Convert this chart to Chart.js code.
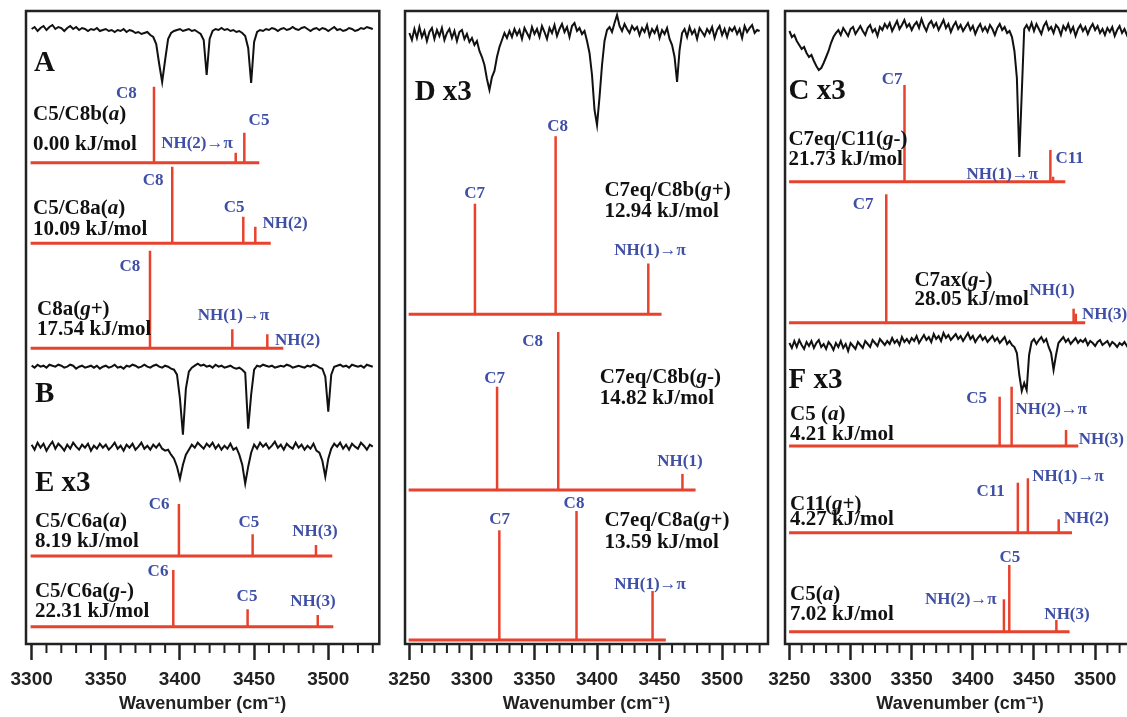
<!DOCTYPE html>
<html>
<head>
<meta charset="utf-8">
<script src="https://cdn.jsdelivr.net/npm/chart.js@4/dist/chart.umd.min.js"></script>
<style>
    body { margin: 0; background: #fff; width: 1127px; height: 717px; overflow: hidden; position: relative; }
    canvas { position: absolute; top: 0; }
</style>
</head>
<body>
<canvas id="p1" width="385" height="717" style="left:0px"></canvas>
<canvas id="p2" width="395" height="717" style="left:380px"></canvas>
<canvas id="p3" width="380" height="717" style="left:760px"></canvas>
<script>
const traceA = [1,3,-1,2,4,0,3,5,1,3, 2,-1,2,4,1,3,0,2,1,-1, 1,0,2,-1,0,1,-1,0,-2,0,
    -1,1,-2,0,-1,-3,-2,-4,-3,-2, -5,-7,-14,-34,-52,-30,-9,-3,-1,0, 1,-1,0,1,-1,0,-2,-4,-10,-45,
    -9,-1,1,0,2,0,1,-1,0,-2, -1,-3,-6,-18,-53,-12,-2,0,-1,1, 0,2,1,-1,1,2,0,1,3,1,
    0,2,3,1,-1,1,2,0,2,1, -1,1,3,0,1,-1,0,2,1,-1, 0,2,1,3,2,1];
const traceB = [1,-1,2,0,1,-1,2,1,0,2, 1,-1,0,2,1,-2,0,1,-1,0, 1,-1,1,-2,0,1,-1,0,2,-1,
    0,-2,1,0,2,1,-1,0,2,0, -1,1,2,0,-1,1,0,-2,-3,-8, -32,-68,-22,-5,-1,1,3,1,2,0,
    1,-1,2,0,1,-1,0,1,-1,-2, -1,-3,-6,-62,-28,-3,1,0,2,1, 0,1,-1,0,1,0,2,1,-1,0,
    1,0,-1,1,0,2,1,-1,-2,-10, -45,-8,0,1,2,0,1,-1,2,1, 0,1,-1,2,1,0];
const traceE = [2,-3,4,-1,3,-4,1,5,-2,3, 0,-4,2,-2,4,0,-3,2,-1,3, -4,1,-2,3,-1,2,-3,0,4,-2,
    1,-4,2,-1,3,-3,0,4,-2,1, -3,2,-1,3,-2,-4,-3,-8,-12,-20, -32,-18,-8,-3,2,-1,4,1,-2,3,
    0,4,-2,2,-3,1,-2,3,-3,-1, -8,-18,-37,-20,-6,2,-2,4,0,3, -2,1,5,-1,2,-3,3,0,-2,4,
    -1,2,-3,1,-2,3,-4,-6,-14,-30, -12,-2,3,0,4,-2,2,-3,3,0, -2,4,1,-3,2,0];
const traceD = [2,-5,6,-3,8,-2,4,-6,3,7, -4,5,-1,7,-5,2,6,-3,4,-6, 3,5,-4,1,-7,-3,-10,-6,-16,-22,
    -30,-44,-55,-42,-36,-22,-12,-5,2,-3, 4,-2,6,0,5,-4,7,2,-3,8, 1,6,-2,9,3,-4,7,2,10,-1,
    6,11,3,8,-2,9,12,4,7,1, 4,-6,-18,-40,-75,-90,-62,-30,-6,5, 8,3,12,20,9,4,11,6,2,9,
    5,8,0,7,3,10,-1,6,2,8, -3,5,1,7,-4,-10,-22,-47,-15,2, 6,-2,8,1,5,-4,7,3,-1,6,
    2,8,-3,5,9,0,6,-2,7,4, 8,1,6,-3,9,3,7,10,2,5, 4];
const traceC = [2,-4,-2,-8,-12,-16,-14,-20,-24,-22, -28,-33,-37,-35,-30,-24,-18,-10,-4,0,
    3,-2,5,1,-3,4,6,-1,3,7, 2,-2,5,8,1,4,-3,6,3,9, 5,10,2,7,12,4,8,13,6,9,
    3,8,11,5,14,7,2,9,12,6, 10,3,8,13,5,9,1,7,11,4, 8,2,6,10,3,7,-1,5,9,2,
    6,1,8,4,-2,5,9,3,6,0, 2,-4,-18,-45,-124,-60,4,8,3,10, 2,9,4,-1,7,11,3,6,0,8,
    5,-2,7,3,9,1,6,-3,4,8, 2,6,-1,5,9,3,7,0,4,-2, 5,1,6,-3,3,7,0,4,-2,3, 1];
const traceF = [2,-3,4,-2,5,0,-4,3,-1,4, -3,2,5,-2,1,-4,3,0,-5,2, -2,4,-3,1,-6,2,-1,-4,3,0,
    -3,4,1,-2,5,2,-1,6,3,0, 4,1,7,2,5,0,8,3,6,2, 7,4,9,2,6,10,5,8,3,11,
    6,9,4,12,7,10,5,8,11,6, 9,4,8,12,6,9,3,7,10,5, 8,3,6,9,4,7,2,5,8,1,
    4,0,-2,-8,-30,-46,-38,-45,-10,3, 6,1,5,8,3,6,-2,-8,-25,-10, 2,5,8,3,6,1,4,7,2,5,
    3,6,0,4,2,-1,3,5,0,2, 4,-1,3,1,-2,2,0,3,-1,2, 1];

// ---- calculated stick spectra: frequency (cm-1) / intensity ----
const c5c8b_f = [3382.5, 3437.6, 3443.4],  c5c8b_i = [76, 10, 30];
const c5c8a_f = [3394.8, 3442.7, 3450.8],  c5c8a_i = [76.6, 26.6, 16.6];
const c8ag_f  = [3379.8, 3435.3, 3458.9],  c8ag_i  = [97.6, 19, 14];
const c6aa_f  = [3399.3, 3449.0, 3491.7],  c6aa_i  = [52, 21.7, 11];
const c6ag_f  = [3395.5, 3445.6, 3492.9],  c6ag_i  = [56.7, 17.4, 11.7];

const c8bgp_f = [3302.4, 3366.9, 3441.0],  c8bgp_i = [110.5, 178, 50.7];
const c8bgm_f = [3320.1, 3369.0, 3468.3],  c8bgm_i = [103.4, 158.1, 16.2];
const c8agp_f = [3321.9, 3383.6, 3444.4],  c8agp_i = [109.7, 129, 49];

const c11gm_f = [3344.1, 3463.4, 3465.6],  c11gm_i = [96.7, 31.7, 5];
const c7ax_f  = [3329.2, 3482.4, 3484.2],  c7ax_i  = [128.4, 14, 9];
const c5a1_f  = [3421.9, 3431.7, 3476.2],  c5a1_i  = [49.3, 59.3, 16];
const c11gp_f = [3436.8, 3445.0, 3470.2],  c11gp_i = [50, 54.4, 13.4];
const c5a2_f  = [3425.4, 3429.8, 3468.3],  c5a2_i  = [32.4, 66.7, 11.7];

// text labels: [text, wavenumber, height, align, kind]  (*x* = italic)
const notes1 = [
    ['A', 3301.6, 580.5, 'l', 'h'],
    ['C5/C8b(*a*)', 3300.9, 529.5, 'l', 'k'], ['0.00 kJ/mol', 3300.9, 499, 'l', 'k'],
    ['C8', 3363.9, 550, 'c', 'b'], ['NH(2)→π', 3411.5, 500.5, 'c', 'b'], ['C5', 3453.3, 523, 'c', 'b'],
    ['C5/C8a(*a*)', 3300.9, 435.5, 'l', 'k'], ['10.09 kJ/mol', 3300.9, 414.5, 'l', 'k'],
    ['C8', 3381.9, 463, 'c', 'b'], ['C5', 3436.5, 436, 'c', 'b'], ['NH(2)', 3470.9, 420.5, 'c', 'b'],
    ['C8a(*g*+)', 3303.6, 334, 'l', 'k'], ['17.54 kJ/mol', 3303.6, 314, 'l', 'k'],
    ['C8', 3366.3, 377, 'c', 'b'], ['NH(1)→π', 3436.1, 328.5, 'c', 'b'], ['NH(2)', 3464, 303, 'l', 'b'],
    ['B', 3302.2, 249, 'l', 'h'], ['E x3', 3302.2, 160.5, 'l', 'h'],
    ['C5/C6a(*a*)', 3302.2, 122.5, 'l', 'k'], ['8.19 kJ/mol', 3302.2, 102.5, 'l', 'k'],
    ['C6', 3385.9, 139, 'c', 'b'], ['C5', 3446.5, 121, 'c', 'b'], ['NH(3)', 3491, 112, 'c', 'b'],
    ['C5/C6a(*g*-)', 3302.2, 52.5, 'l', 'k'], ['22.31 kJ/mol', 3302.2, 32.5, 'l', 'k'],
    ['C6', 3385.2, 72, 'c', 'b'], ['C5', 3445.2, 47, 'c', 'b'], ['NH(3)', 3489.7, 42.3, 'c', 'b']
];
const notes2 = [
    ['D x3', 3254.2, 551, 'l', 'h'],
    ['C8', 3368.5, 517, 'c', 'b'], ['C7', 3302.2, 450.6, 'c', 'b'],
    ['C7eq/C8b(*g*+)', 3405.9, 453.9, 'l', 'k'], ['12.94 kJ/mol', 3405.9, 432.8, 'l', 'k'],
    ['NH(1)→π', 3442.4, 393.2, 'c', 'b'],
    ['C8', 3348.5, 302.8, 'c', 'b'], ['C7', 3318.1, 265.7, 'c', 'b'],
    ['C7eq/C8b(*g*-)', 3402.1, 266.5, 'l', 'k'], ['14.82 kJ/mol', 3402.1, 245.4, 'l', 'k'],
    ['NH(1)', 3466.3, 182.1, 'c', 'b'],
    ['C8', 3381.6, 139.9, 'c', 'b'], ['C7', 3322.1, 123.9, 'c', 'b'],
    ['C7eq/C8a(*g*+)', 3405.9, 123, 'l', 'k'], ['13.59 kJ/mol', 3405.9, 101.9, 'l', 'k'],
    ['NH(1)→π', 3442.4, 58.9, 'c', 'b']
];
const notes3 = [
    ['C x3', 3249.2, 552.3, 'l', 'h'],
    ['C7', 3333.9, 564, 'c', 'b'],
    ['C7eq/C11(*g*-)', 3249.2, 504, 'l', 'k'], ['21.73 kJ/mol', 3249.2, 484, 'l', 'k'],
    ['NH(1)→π', 3424.1, 469, 'c', 'b'], ['C11', 3467.5, 485.7, 'l', 'b'],
    ['C7', 3310.2, 439, 'c', 'b'],
    ['C7ax(*g*-)', 3352.2, 363.2, 'l', 'k'], ['28.05 kJ/mol', 3352.2, 344, 'l', 'k'],
    ['NH(1)', 3464.8, 353.2, 'c', 'b'], ['NH(3)', 3489.2, 329, 'l', 'b'],
    ['F x3', 3249.2, 263.2, 'l', 'h'],
    ['C5', 3403.1, 245.7, 'c', 'b'], ['NH(2)→π', 3434.9, 234, 'l', 'b'], ['NH(3)', 3486.5, 204, 'l', 'b'],
    ['C5 (*a*)', 3250.5, 229, 'l', 'k'], ['4.21 kJ/mol', 3250.5, 209, 'l', 'k'],
    ['C11', 3414.6, 152.3, 'c', 'b'], ['NH(1)→π', 3448.5, 167.3, 'l', 'b'], ['NH(2)', 3474.3, 125.7, 'l', 'b'],
    ['C11(*g*+)', 3250.5, 139.8, 'l', 'k'], ['4.27 kJ/mol', 3250.5, 124, 'l', 'k'],
    ['C5', 3430.2, 86.5, 'c', 'b'], ['NH(2)→π', 3390.2, 44.8, 'c', 'b'], ['NH(3)', 3477, 29.8, 'c', 'b'],
    ['C5(*a*)', 3250.5, 49, 'l', 'k'], ['7.02 kJ/mol', 3250.5, 29, 'l', 'k']
];

const RED = '#e8412c';
const BLUE = '#3f4fa6';
const SERIF = '"Liberation Serif", "Times New Roman", serif';
const SANS = '"Liberation Sans", Arial, sans-serif';
const KINDS = { h: [29, '#111'], k: [21, '#111'], b: [17, BLUE] };

const panels = [
    { id: 'p1', pad: { left: 26, right: 5.7, top: 11, bottom: 0 }, xr: [3296.2, 3534.4], start: 3300,
      traces: [[traceA, 614], [traceB, 277.3], [traceE, 197.3]],
      sticks: [[c5c8b_f, c5c8b_i, 481.3, 3299.3, 3453.5], [c5c8a_f, c5c8a_i, 400.7, 3299.3, 3461.2],
               [c8ag_f, c8ag_i, 295.7, 3299.3, 3469.7], [c6aa_f, c6aa_i, 88, 3299.3, 3502.7],
               [c6ag_f, c6ag_i, 17.3, 3299.3, 3503.4]],
      notes: notes1 },
    { id: 'p2', pad: { left: 22.3, right: 7, top: 11, bottom: 0 }, xr: [3246.5, 3536.7], start: 3250,
      traces: [[traceD, 609]],
      sticks: [[c8bgp_f, c8bgp_i, 329.8, 3249.4, 3451.6], [c8bgm_f, c8bgm_i, 153.9, 3249.4, 3478.8],
               [c8agp_f, c8agp_i, 4, 3249.4, 3455]],
      notes: notes2 },
    { id: 'p3', pad: { left: 23.3, right: 5, top: 11, bottom: 0 }, xr: [3246.4, 3532.6], start: 3250,
      traces: [[traceC, 611], [traceF, 299]],
      sticks: [[c11gm_f, c11gm_i, 462.3, 3249.7, 3475.6], [c7ax_f, c7ax_i, 321.3, 3249.7, 3491.9],
               [c5a1_f, c5a1_i, 198, 3249.7, 3486.2], [c11gp_f, c11gp_i, 111.3, 3249.7, 3481.1],
               [c5a2_f, c5a2_i, 12.3, 3249.7, 3479.1]],
      notes: notes3 }
];

// frame + minor ticks
const framePlugin = {
    id: 'frame',
    afterDatasetsDraw(chart) {
        const { ctx, chartArea: a } = chart;
        const x = chart.scales.x;
        ctx.save();
        ctx.strokeStyle = '#222';
        ctx.lineWidth = 2.5;
        ctx.strokeRect(a.left, a.top, a.right - a.left, a.bottom - a.top);
        ctx.lineWidth = 2;
        ctx.beginPath();
        for (let v = Math.ceil(x.min / 10) * 10; v <= x.max; v += 10) {
            if (v % 50 === 0) continue;
            const px = x.getPixelForValue(v);
            ctx.moveTo(px, a.bottom);
            ctx.lineTo(px, a.bottom + 9);
        }
        ctx.stroke();
        ctx.restore();
    }
};

function drawRich(ctx, text, x, y, size, color, align) {
    const parts = text.split('*');
    const fonts = parts.map((p, i) => (i % 2 ? 'italic bold ' : 'bold ') + size + 'px ' + SERIF);
    let w = 0;
    const ws = parts.map((p, i) => { ctx.font = fonts[i]; const m = ctx.measureText(p).width; w += m; return m; });
    let cx = align === 'c' ? x - w / 2 : align === 'r' ? x - w : x;
    ctx.fillStyle = color;
    ctx.textBaseline = 'middle';
    ctx.textAlign = 'left';
    parts.forEach((p, i) => { ctx.font = fonts[i]; ctx.fillText(p, cx, y); cx += ws[i]; });
}

function notesPlugin(list) {
    return {
        id: 'notes',
        afterDraw(chart) {
            const { ctx } = chart;
            const xs = chart.scales.x, ys = chart.scales.y;
            ctx.save();
            list.forEach(([t, wn, h, al, kind]) => {
                const [size, color] = KINDS[kind];
                drawRich(ctx, t, xs.getPixelForValue(wn), ys.getPixelForValue(h), size, color, al);
            });
            ctx.restore();
        }
    };
}

function makePanel(p) {
    const datasets = [];
    p.traces.forEach(([vals, off]) => {
        datasets.push({
            data: vals.map((v, i) => ({ x: p.start + i * 2, y: off + v })),
            borderColor: '#111', borderWidth: 2, showLine: true
        });
    });
    p.sticks.forEach(([freq, inten, off, x0, x1]) => {
        datasets.push({ data: [{ x: x0, y: off }, { x: x1, y: off }], borderColor: RED, borderWidth: 3, showLine: true });
        freq.forEach((f, k) => {
            datasets.push({ data: [{ x: f, y: off }, { x: f, y: off + inten[k] }], borderColor: RED, borderWidth: 2.5, showLine: true });
        });
    });

    new Chart(document.getElementById(p.id), {
        type: 'scatter',
        data: { datasets },
        plugins: [framePlugin, notesPlugin(p.notes)],
        options: {
            responsive: false,
            animation: false,
            events: [],
            devicePixelRatio: 1,
            layout: { padding: p.pad },
            elements: { point: { radius: 0 }, line: { tension: 0 } },
            plugins: { legend: { display: false }, tooltip: { enabled: false } },
            scales: {
                y: { display: false, min: 0, max: 633 },
                x: {
                    type: 'linear', min: p.xr[0], max: p.xr[1],
                    border: { display: false },
                    grid: {
                        drawOnChartArea: false, drawTicks: true, tickLength: 16, tickWidth: 2.5,
                        tickColor: c => (c.tick && c.tick.value % 50 === 0) ? '#222' : 'rgba(0,0,0,0)'
                    },
                    afterBuildTicks: s => {
                        const t = [];
                        for (let v = Math.ceil(s.min / 10) * 10; v <= s.max; v += 10) t.push({ value: v });
                        s.ticks = t;
                    },
                    afterFit: s => { s.height = 73; },
                    ticks: {
                        autoSkip: false, maxRotation: 0, padding: 8, color: '#222',
                        font: { family: SANS, size: 19, weight: 'bold' },
                        callback: v => (v % 50 === 0 ? String(v) : '')
                    },
                    title: {
                        display: true, text: 'Wavenumber (cm⁻¹)', color: '#222',
                        font: { family: SANS, size: 18, weight: 'bold' },
                        padding: { top: 0, bottom: 2 }
                    }
                }
            }
        }
    });
}

panels.forEach(makePanel);
</script>
</body>
</html>
